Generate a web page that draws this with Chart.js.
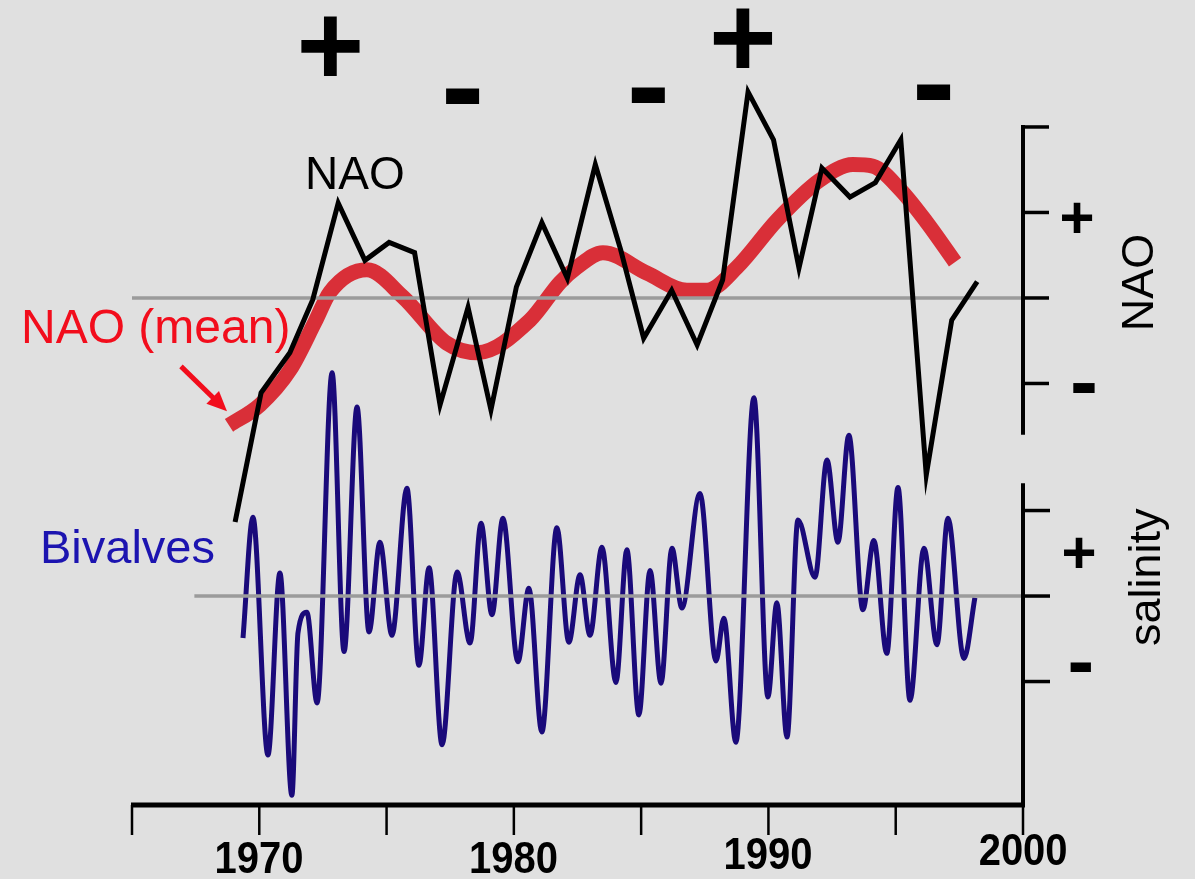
<!DOCTYPE html>
<html>
<head>
<meta charset="utf-8">
<script src="https://cdn.jsdelivr.net/npm/chart.js@4.4.1/dist/chart.umd.min.js"></script>
<style>
html,body{margin:0;padding:0;background:#e0e0e0;}
#wrap{position:relative;width:1195px;height:879px;}
</style>
</head>
<body>
<div id="wrap"><canvas id="c"></canvas></div>
<script>
/* --- DATA --- */
// yearly NAO index (black); plotted a little after the year mark, as in the figure
const naoYears = [1969.05,1970.07,1971.2,1972.1,1973.1,1974.15,1975.1,1976.1,1977.1,1978.2,1979.1,1980.1,
                  1981.1,1982.1,1983.2,1984.2,1985.1,1986.2,1987.2,1988.2,1989.2,1990.2,1991.2,1992.1,
                  1993.2,1994.2,1995.2,1996.2,1997.2,1998.2];
const naoIndex = [-2.62,-1.11,-0.64,-0.02,1.11,0.44,0.65,0.53,-1.25,-0.11,-1.31,0.13,
                  0.88,0.23,1.56,0.56,-0.47,0.09,-0.55,0.21,2.41,1.85,0.35,1.52,
                  1.18,1.35,1.85,-2.07,-0.26,0.19];

// smoothed NAO (red)
const meanYears = [1968.81,1970.03,1971.21,1972.19,1972.78,1974.23,1975.65,1977.37,1978.55,1980.63,1981.81,
                   1982.48,1983.50,1985.23,1986.80,1987.59,1988.77,1990.34,1992.03,1993.32,1994.11,1995.17,
                   1996.23,1997.33];
const naoMean   = [-1.49,-1.25,-0.84,-0.28,0.07,0.33,0.01,-0.53,-0.64,-0.26,0.18,
                   0.36,0.53,0.29,0.09,0.09,0.36,0.91,1.38,1.56,1.54,1.27,
                   0.88,0.42];

// bivalve salinity proxy (blue), turning points
const bivYears = [1969.36,1969.75,1970.34,1970.81,1971.28,1971.52,1971.87,1972.27,1972.86,1973.33,1973.84,
                  1974.31,1974.74,1975.21,1975.80,1976.27,1976.67,1977.18,1977.77,1978.28,1978.71,1979.14,
                  1979.57,1980.16,1980.59,1981.10,1981.69,1982.16,1982.60,1982.99,1983.46,1984.01,1984.44,
                  1984.91,1985.35,1985.78,1986.21,1986.60,1987.31,1987.94,1988.25,1988.72,1989.43,1989.98,
                  1990.33,1990.73,1991.16,1991.83,1992.30,1992.73,1993.16,1993.71,1994.14,1994.65,1995.09,
                  1995.56,1996.11,1996.62,1997.05,1997.68,1998.11];
const bivSalinity = [-0.49,0.92,-1.86,0.27,-2.33,-0.43,-0.19,-1.25,2.61,-0.65,2.21,
                     -0.42,0.63,-0.46,1.26,-0.81,0.33,-1.74,0.28,-0.55,0.85,-0.22,
                     0.91,-0.77,0.09,-1.59,0.80,-0.54,0.25,-0.46,0.57,-1.01,0.54,
                     -1.39,0.30,-1.02,0.56,-0.14,1.20,-0.76,-0.26,-1.71,2.32,-1.18,
                     -0.08,-1.65,0.89,0.22,1.59,0.63,1.88,-0.16,0.65,-0.67,1.27,
                     -1.22,0.56,-0.57,0.91,-0.73,-0.02];

// zero reference lines (start/end years)
const naoZeroSpan = [1965, 2000];
const salZeroSpan = [1967.45, 2000];

// axes
const xTicks      = [1965,1970,1975,1980,1985,1990,1995,2000];
const xLabelYears = [1970,1980,1990,2000];
const naoTicks    = [2,1,0,-1];
const naoSpine    = [2,-1.6];
const salTicks    = [1,0,-1];
const salSpine    = [1.32];

// phase marks over the top
const phaseYears = [1972.8,1978.0,1985.3,1989.0,1996.5];
const phaseSigns = ['+','-','-','+','-'];

/* --- HELPERS --- */
const pts = (xs, ys) => xs.map((x,i)=>({x, y:ys[i]}));
const FONT = '"Liberation Sans", Arial, sans-serif';

function glyph(ctx, s, cx, cy, font, color, sy){
  // centre the visible ink of a glyph on (cx,cy); sy = optional vertical stretch
  sy = sy || 1;
  ctx.save();
  ctx.font = font;
  ctx.fillStyle = color;
  ctx.textAlign = 'left';
  ctx.textBaseline = 'alphabetic';
  const m = ctx.measureText(s);
  const w = m.actualBoundingBoxRight + m.actualBoundingBoxLeft;
  ctx.translate(cx, cy);
  ctx.scale(1, sy);
  ctx.fillText(s, -w/2 + m.actualBoundingBoxLeft, (m.actualBoundingBoxAscent - m.actualBoundingBoxDescent)/2);
  ctx.restore();
}

function text(ctx, s, x, y, font, color, align){
  ctx.font = font;
  ctx.fillStyle = color;
  ctx.textAlign = align || 'left';
  ctx.textBaseline = 'alphabetic';
  ctx.fillText(s, x, y);
}

/* --- FRAME / ANNOTATION PLUGIN --- */
const frame = {
  id:'frame',
  afterDatasetsDraw(chart){
    const {ctx, scales:{x, y, y2}, chartArea:ca} = chart;
    ctx.save();
    ctx.strokeStyle = '#000';
    ctx.lineCap = 'butt';

    // bottom axis
    const xr = x.getPixelForValue(2000);
    ctx.lineWidth = 5;
    ctx.beginPath();
    ctx.moveTo(x.getPixelForValue(1965)-1, ca.bottom);
    ctx.lineTo(xr+2, ca.bottom);
    ctx.stroke();
    ctx.lineWidth = 2.5;
    xTicks.forEach(t=>{
      const px = x.getPixelForValue(t);
      ctx.beginPath();
      ctx.moveTo(px, ca.bottom);
      ctx.lineTo(px, ca.bottom+30);
      ctx.stroke();
    });
    xLabelYears.forEach(t=>{
      const lift = t === 2000 ? 8 : (t === 1990 ? 4 : 0);
      glyph(ctx, String(t), x.getPixelForValue(t), ca.bottom+52-lift, 'bold 40px '+FONT, '#000', 1.12);
    });

    // right spine: NAO
    ctx.lineWidth = 4;
    ctx.beginPath();
    ctx.moveTo(xr, y.getPixelForValue(naoSpine[0])-2);
    ctx.lineTo(xr, y.getPixelForValue(naoSpine[1]));
    ctx.stroke();
    ctx.lineWidth = 3.5;
    naoTicks.forEach(t=>{
      const py = y.getPixelForValue(t);
      ctx.beginPath();
      ctx.moveTo(xr, py);
      ctx.lineTo(xr+26, py);
      ctx.stroke();
    });

    // right spine: salinity
    ctx.lineWidth = 4;
    ctx.beginPath();
    ctx.moveTo(xr, y2.getPixelForValue(salSpine[0]));
    ctx.lineTo(xr, ca.bottom+2);
    ctx.stroke();
    ctx.lineWidth = 3.5;
    salTicks.forEach(t=>{
      const py = y2.getPixelForValue(t);
      ctx.beginPath();
      ctx.moveTo(xr, py);
      ctx.lineTo(xr+27, py);
      ctx.stroke();
    });

    // +/- beside the spines
    glyph(ctx, '+', 1077, y.getPixelForValue(0.94), 'bold 60px '+FONT, '#000');
    glyph(ctx, '-', 1084, y.getPixelForValue(-1.05), 'bold 84px '+FONT, '#000');
    glyph(ctx, '+', 1079, y2.getPixelForValue(0.51), 'bold 60px '+FONT, '#000');
    glyph(ctx, '-', 1081, y2.getPixelForValue(-0.83), 'bold 80px '+FONT, '#000');

    // rotated axis titles
    ctx.save();
    ctx.translate(1153, y.getPixelForValue(0.18));
    ctx.rotate(-Math.PI/2);
    text(ctx, 'NAO', 0, 0, '45px '+FONT, '#000', 'center');
    ctx.restore();
    ctx.save();
    ctx.translate(1160, y2.getPixelForValue(0.22));
    ctx.rotate(-Math.PI/2);
    text(ctx, 'salinity', 0, 0, '45px '+FONT, '#000', 'center');
    ctx.restore();

    // phase marks at the top
    phaseYears.forEach((yr,i)=>{
      const big = phaseSigns[i] === '+';
      const cy = [46,96,95,38,92][i];
      glyph(ctx, phaseSigns[i], x.getPixelForValue(yr), cy,
            big ? 'bold 116px '+FONT : 'bold 130px '+FONT, '#000');
    });

    // series labels
    text(ctx, 'NAO', 305, 189, '46px '+FONT, '#000');
    text(ctx, 'NAO (mean)', 21, 343, '48px '+FONT, '#f20d1c');
    text(ctx, 'Bivalves', 40, 563, '47px '+FONT, '#1c14b0');

    // red arrow to the start of the mean curve
    const sx = x.getPixelForValue(meanYears[0]);
    const sy = y.getPixelForValue(naoMean[0]);
    const tipX = sx - 2, tipY = sy - 14;
    const tailX = tipX - 46, tailY = tipY - 45;
    const ang = Math.atan2(tipY - tailY, tipX - tailX);
    ctx.strokeStyle = '#f20d1c';
    ctx.fillStyle = '#f20d1c';
    ctx.lineWidth = 5;
    ctx.beginPath();
    ctx.moveTo(tailX, tailY);
    ctx.lineTo(tipX - 14*Math.cos(ang), tipY - 14*Math.sin(ang));
    ctx.stroke();
    ctx.beginPath();
    ctx.moveTo(tipX, tipY);
    ctx.lineTo(tipX - 20*Math.cos(ang) + 9*Math.sin(ang), tipY - 20*Math.sin(ang) - 9*Math.cos(ang));
    ctx.lineTo(tipX - 20*Math.cos(ang) - 9*Math.sin(ang), tipY - 20*Math.sin(ang) + 9*Math.cos(ang));
    ctx.closePath();
    ctx.fill();

    ctx.restore();
  }
};

/* --- CHART --- */
new Chart(document.getElementById('c'), {
  type:'line',
  data:{datasets:[
    {label:'NAO', data:pts(naoYears, naoIndex), yAxisID:'y',
     borderColor:'#000', borderWidth:5, borderJoinStyle:'miter', tension:0, pointRadius:0},
    {label:'NAO zero', data:pts(naoZeroSpan,[0,0]), yAxisID:'y',
     borderColor:'#9b9b9b', borderWidth:3.5, pointRadius:0},
    {label:'NAO (mean)', data:pts(meanYears, naoMean), yAxisID:'y',
     borderColor:'#d92f38', borderWidth:15, borderCapStyle:'butt',
     cubicInterpolationMode:'monotone', pointRadius:0},
    {label:'salinity zero', data:pts(salZeroSpan,[0,0]), yAxisID:'y2',
     borderColor:'#9b9b9b', borderWidth:3.5, pointRadius:0},
    {label:'Bivalves', data:pts(bivYears, bivSalinity), yAxisID:'y2',
     borderColor:'#1a0a7a', borderWidth:5, cubicInterpolationMode:'monotone', pointRadius:0}
  ]},
  options:{
    responsive:true, maintainAspectRatio:false, animation:false,
    layout:{padding:{left:132, right:172, top:0, bottom:74}},
    plugins:{legend:{display:false}, tooltip:{enabled:false}},
    scales:{
      x:{type:'linear', min:1965, max:2000, display:false},
      y:{type:'linear', min:-5.93, max:3.485, display:false},
      y2:{type:'linear', min:-2.444, max:6.971, display:false}
    }
  },
  plugins:[frame]
});
</script>
</body>
</html>
